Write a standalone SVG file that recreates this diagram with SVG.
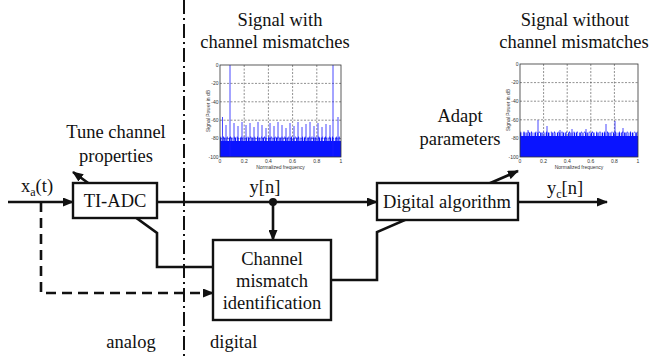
<svg xmlns="http://www.w3.org/2000/svg" width="650" height="356" viewBox="0 0 650 356">
<style>
.t{font-family:'Liberation Serif','DejaVu Serif',serif;font-size:18.5px;fill:#111}
.m{text-anchor:middle}
.ln{fill:none;stroke:#111;stroke-width:2.6}
.box{fill:#fff;stroke:#111;stroke-width:2.4}
.grid{stroke:#444;stroke-width:0.6;stroke-dasharray:2 1.5;fill:none}
.frame{fill:none;stroke:#333;stroke-width:0.8}
.tk{font-family:'Liberation Sans',Arial,sans-serif;font-size:5px;fill:#333}
.sp{stroke:#1a1aff;stroke-width:0.8;fill:none}
.band{fill:#0a14ff}
</style>
<defs>
<marker id="ah" markerWidth="11" markerHeight="9" refX="10" refY="4.5" orient="auto" markerUnits="userSpaceOnUse">
<path d="M0,0 L11,4.5 L0,9 z" fill="#111"/>
</marker>
</defs>

<!-- analog/digital boundary -->
<line x1="184" y1="0" x2="184" y2="356" stroke="#111" stroke-width="2" stroke-dasharray="14 4 2 4"/>

<g id="connectors">
<line class="ln" x1="8" y1="202" x2="73" y2="202" marker-end="url(#ah)"/>
<line class="ln" x1="157" y1="202" x2="377" y2="202" marker-end="url(#ah)"/>
<line class="ln" x1="273" y1="202" x2="273" y2="240" marker-end="url(#ah)"/>
<circle cx="273" cy="202" r="4" fill="#111"/>
<polyline class="ln" points="213,267 157,267 157,233 73,172" marker-end="url(#ah)"/>
<polyline class="ln" points="331,280 377,280 377,232 518,171" marker-end="url(#ah)"/>
<line class="ln" x1="518" y1="202" x2="607" y2="202" marker-end="url(#ah)"/>
<polyline class="ln" points="41,202 41,293 213,293" stroke-dasharray="10 6" marker-end="url(#ah)"/>
</g>

<g id="tiadc">
<rect class="box" x="73" y="183" width="84" height="35"/>
<text class="t m" x="115" y="207" font-family="Liberation Serif, serif">TI-ADC</text>
</g>

<g id="channel">
<rect class="box" x="213" y="240" width="118" height="80"/>
<text class="t m" x="272" y="265">Channel</text>
<text class="t m" x="272" y="287">mismatch</text>
<text class="t m" x="272" y="309">identification</text>
</g>

<g id="digital">
<rect class="box" x="377" y="183" width="141" height="37"/>
<text class="t m" x="447" y="208">Digital algorithm</text>
</g>

<g id="labels">
<text class="t" x="21" y="192">x<tspan font-size="12" dy="4">a</tspan><tspan dy="-4">(t)</tspan></text>
<text class="t m" x="265" y="193">y[n]</text>
<text class="t" x="547" y="194">y<tspan font-size="12" dy="4">c</tspan><tspan dy="-4">[n]</tspan></text>
<text class="t m" x="116" y="138">Tune channel</text>
<text class="t m" x="116" y="162">properties</text>
<text class="t m" x="460" y="122">Adapt</text>
<text class="t m" x="460" y="145">parameters</text>
<text class="t m" x="131" y="348">analog</text>
<text class="t" x="210" y="348">digital</text>
<text class="t m" x="280" y="26">Signal with</text>
<text class="t m" x="275" y="48">channel mismatches</text>
<text class="t m" x="575" y="26">Signal without</text>
<text class="t m" x="574" y="48">channel mismatches</text>
</g>

<!-- left spectrum plot -->
<g id="plot1" transform="translate(220,65)">
<rect x="0" y="0" width="121" height="92" fill="#fff"/>
<path class="grid" d="M24.2,0V92M48.4,0V92M72.6,0V92M96.8,0V92M0,18.4H121M0,36.8H121M0,55.2H121M0,73.6H121"/>
<rect class="band" x="0" y="76" width="121" height="16"/>
<line x1="0" y1="74.5" x2="121" y2="74.5" stroke="#0a14ff" stroke-width="4" stroke-dasharray="1 0.6 0.5 1.2 1.5 0.8"/>
<line x1="0.5" y1="72.5" x2="121" y2="72.5" stroke="#0a14ff" stroke-width="2" stroke-dasharray="0.6 2.1 0.8 3.3"/>
<path class="sp" d="M10,92V0M113,92V0M2.5,76V52M118,76V52M6,76V60M14,76V58M18,76V61M22,76V57M26,76V60M30,76V58M34,76V62M38,76V57M42,76V60M46,76V63M50,76V58M54,76V61M58,76V57M62,76V60M66,76V63M70,76V58M74,76V61M78,76V57M82,76V62M86,76V59M90,76V57M94,76V61M98,76V58M102,76V62M106,76V59M110,76V60"/>
<rect class="frame" x="0" y="0" width="121" height="92"/>
<g class="tk" text-anchor="end">
<text x="-1.5" y="1.8">0</text><text x="-1.5" y="20.2">-20</text><text x="-1.5" y="38.6">-40</text><text x="-1.5" y="57">-60</text><text x="-1.5" y="75.4">-80</text><text x="-1.5" y="93.8">-100</text>
</g>
<g class="tk" text-anchor="middle">
<text x="0" y="98">0</text><text x="24.2" y="98">0.2</text><text x="48.4" y="98">0.4</text><text x="72.6" y="98">0.6</text><text x="96.8" y="98">0.8</text><text x="121" y="98">1</text>
<text x="60.5" y="104">Normalized frequency</text>
<text transform="translate(-10,46) rotate(-90)">Signal Power in dB</text>
</g>
</g>

<!-- right spectrum plot -->
<g id="plot2" transform="translate(520,64)">
<rect x="0" y="0" width="118" height="93" fill="#fff"/>
<path class="grid" d="M23.6,0V93M47.2,0V93M70.8,0V93M94.4,0V93M0,18.6H118M0,37.2H118M0,55.8H118M0,74.4H118"/>
<rect class="band" x="0" y="72" width="118" height="21"/>
<line x1="0" y1="70.5" x2="118" y2="70.5" stroke="#0a14ff" stroke-width="4" stroke-dasharray="1 0.6 0.5 1.2 1.5 0.8"/>
<line x1="0.5" y1="68.3" x2="118" y2="68.3" stroke="#0a14ff" stroke-width="1.6" stroke-dasharray="0.6 2.5 0.8 3.7"/>
<path class="sp" d="M18,72V56M27,72V62M52,72V65M86,72V60M95,72V57M103,72V64M8,72V66M40,72V66M66,72V65"/>
<rect class="frame" x="0" y="0" width="118" height="93"/>
<g class="tk" text-anchor="end">
<text x="-1.5" y="1.8">0</text><text x="-1.5" y="20.4">-20</text><text x="-1.5" y="39">-40</text><text x="-1.5" y="57.6">-60</text><text x="-1.5" y="76.2">-80</text><text x="-1.5" y="94.8">-100</text>
</g>
<g class="tk" text-anchor="middle">
<text x="0" y="99">0</text><text x="23.6" y="99">0.2</text><text x="47.2" y="99">0.4</text><text x="70.8" y="99">0.6</text><text x="94.4" y="99">0.8</text><text x="118" y="99">1</text>
<text x="59" y="105">Normalized frequency</text>
<text transform="translate(-10,46) rotate(-90)">Signal Power in dB</text>
</g>
</g>
</svg>
